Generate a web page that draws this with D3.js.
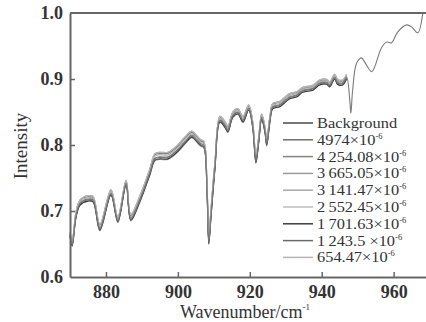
<!DOCTYPE html>
<html>
<head>
<meta charset="utf-8">
<script src="https://cdn.jsdelivr.net/npm/d3@7"></script>
<style>
body { margin: 0; background: #fff; }
text { font-family: "Liberation Serif", "DejaVu Serif", serif; fill: #333; }
.line { fill: none; stroke-width: 1.1; }
</style>
</head>
<body>
<svg id="chart" width="426" height="322"></svg>
<script>
// wavenumbers (cm^-1), shared by all series
const wn = [870.0,870.6,871.7,872.8,875.0,876.4,878.3,881.4,883.3,885.6,886.9,889.4,892.2,893.6,895.0,897.2,899.7,901.9,903.9,905.3,906.4,907.2,908.1,908.6,909.2,910.3,911.7,913.1,913.9,915.3,916.7,918.1,919.7,920.8,921.7,922.5,923.3,924.2,924.7,925.6,926.4,928.3,931.1,933.1,934.7,937.5,939.4,941.4,942.2,943.6,944.4,945.8,946.9,
  947.8,948.1,948.6,949.7,951.1,951.9,953.9,954.7,956.7,958.1,959.4,961.1,963.6,965.0,966.7,968.1]

const background = [0.664,0.650,0.694,0.712,0.718,0.717,0.674,0.727,0.686,0.742,0.689,0.717,0.758,0.780,0.782,0.782,0.792,0.805,0.815,0.808,0.802,0.800,0.732,0.653,0.694,0.767,0.838,0.830,0.823,0.845,0.850,0.838,0.856,0.830,0.777,0.808,0.842,0.823,0.803,0.838,0.858,0.861,0.873,0.876,0.883,0.886,0.894,0.895,0.891,0.903,0.895,0.894,0.903,
  0.868,0.848,0.883,0.924,0.932,0.926,0.911,0.918,0.948,0.956,0.955,0.971,0.982,0.979,0.970,1.000]

const s4974 = [0.667,0.655,0.698,0.716,0.722,0.720,0.679,0.731,0.690,0.745,0.693,0.721,0.762,0.785,0.787,0.787,0.797,0.810,0.819,0.812,0.806,0.804,0.738,0.660,0.700,0.772,0.842,0.834,0.827,0.849,0.854,0.842,0.859,0.834,0.782,0.812,0.846,0.827,0.808,0.842,0.862,0.865,0.877,0.880,0.886,0.889,0.897,0.898,0.894,0.906,0.898,0.897,0.906]
const s4254 = [0.668,0.656,0.699,0.717,0.723,0.722,0.679,0.732,0.691,0.746,0.694,0.722,0.763,0.786,0.788,0.788,0.798,0.811,0.820,0.813,0.807,0.805,0.739,0.662,0.701,0.773,0.843,0.835,0.828,0.850,0.855,0.843,0.860,0.835,0.783,0.813,0.847,0.828,0.808,0.843,0.863,0.866,0.878,0.880,0.887,0.890,0.898,0.899,0.895,0.907,0.899,0.898,0.907]
const s3665 = [0.662,0.647,0.691,0.709,0.715,0.714,0.670,0.724,0.683,0.739,0.685,0.713,0.754,0.776,0.778,0.778,0.788,0.801,0.811,0.804,0.798,0.796,0.727,0.650,0.690,0.763,0.834,0.826,0.819,0.842,0.847,0.834,0.853,0.826,0.772,0.804,0.838,0.819,0.798,0.834,0.855,0.858,0.870,0.873,0.880,0.883,0.891,0.892,0.888,0.900,0.892,0.891,0.900]
const s3141 = [0.665,0.652,0.696,0.714,0.720,0.719,0.676,0.729,0.688,0.744,0.691,0.719,0.760,0.783,0.785,0.785,0.795,0.808,0.817,0.810,0.804,0.802,0.735,0.657,0.697,0.770,0.840,0.832,0.825,0.847,0.852,0.840,0.858,0.832,0.780,0.810,0.844,0.825,0.806,0.840,0.860,0.863,0.875,0.878,0.885,0.888,0.896,0.897,0.893,0.905,0.897,0.896,0.905]
const s2552 = [0.669,0.657,0.699,0.717,0.723,0.722,0.680,0.733,0.692,0.747,0.695,0.722,0.764,0.787,0.789,0.789,0.799,0.812,0.821,0.814,0.808,0.806,0.741,0.665,0.703,0.773,0.843,0.835,0.829,0.850,0.855,0.843,0.861,0.836,0.785,0.813,0.847,0.828,0.809,0.843,0.863,0.866,0.878,0.881,0.888,0.891,0.899,0.900,0.896,0.907,0.900,0.899,0.907]
const s1701 = [0.662,0.647,0.691,0.709,0.715,0.714,0.671,0.724,0.683,0.739,0.686,0.714,0.755,0.777,0.779,0.779,0.789,0.802,0.812,0.805,0.799,0.797,0.728,0.650,0.690,0.763,0.835,0.827,0.820,0.842,0.847,0.835,0.853,0.827,0.773,0.805,0.839,0.820,0.800,0.835,0.855,0.858,0.870,0.873,0.880,0.883,0.891,0.892,0.888,0.900,0.892,0.891,0.900]
const s1243 = [0.663,0.651,0.693,0.711,0.717,0.716,0.673,0.726,0.685,0.741,0.688,0.716,0.757,0.779,0.781,0.781,0.791,0.804,0.813,0.806,0.800,0.798,0.730,0.655,0.693,0.766,0.837,0.829,0.822,0.844,0.849,0.837,0.855,0.829,0.775,0.807,0.841,0.822,0.801,0.837,0.857,0.860,0.872,0.875,0.882,0.885,0.893,0.894,0.890,0.902,0.894,0.893,0.902]
const s654 = [0.666,0.654,0.699,0.717,0.723,0.722,0.680,0.732,0.691,0.747,0.695,0.723,0.764,0.787,0.789,0.789,0.799,0.812,0.821,0.814,0.808,0.806,0.741,0.664,0.703,0.774,0.844,0.836,0.829,0.850,0.855,0.844,0.861,0.836,0.785,0.814,0.847,0.829,0.810,0.843,0.863,0.866,0.878,0.881,0.887,0.890,0.898,0.899,0.895,0.907,0.899,0.898,0.907]

// legend: label, superscript
const labels = [
  ["Background", ""],
  ["4974×10", "-6"],
  ["4\u2009254.08×10", "-6"],
  ["3\u2009665.05×10", "-6"],
  ["3\u2009141.47×10", "-6"],
  ["2\u2009552.45×10", "-6"],
  ["1\u2009701.63×10", "-6"],
  ["1\u2009243.5 ×10", "-6"],
  ["654.47×10", "-6"]
]
const series = [background, s4974, s4254, s3665, s3141, s2552, s1701, s1243, s654]
const colors = ["#4a4a4a", "#6e6e6e", "#858585", "#9a9a9a", "#aaaaaa", "#bdbdbd", "#3c3c3c", "#6a6a6a", "#b5b5b5"]

const xTicks = [880, 900, 920, 940, 960]
const yTicks = [0.6, 0.7, 0.8, 0.9, 1.0]

const margin = {top: 13, right: 0, bottom: 45, left: 70},
    width = 426,
    height = 322

const svg = d3.select("#chart")

const fx = d3.scaleLinear()
    .domain([870, 969])
    .range([margin.left, width - margin.right])
const fy = d3.scaleLinear()
    .domain([0.6, 1.0])
    .range([height - margin.bottom, margin.top])

const line = d3.line()
    .x(d => fx(d[0]))
    .y(d => fy(d[1]))
    .curve(d3.curveCatmullRom.alpha(0.5))

// sample spectra first, background on top
series.slice(1).forEach((s, i) => {
    svg.append("path")
        .datum(s.map((v, j) => [wn[j], v]))
        .attr("class", "line")
        .attr("stroke", colors[i + 1])
        .attr("d", line)
})
svg.append("path")
    .datum(background.map((v, j) => [wn[j], v]))
    .attr("class", "line")
    .attr("stroke", "#7a7a7a")
    .attr("d", line)

// axes
const xAxis = svg.append("g")
    .attr("transform", "translate(0," + fy(0.6) + ")")
    .call(d3.axisBottom(fx).tickValues(xTicks).tickSizeInner(-5).tickSizeOuter(0).tickPadding(8))
const yAxis = svg.append("g")
    .attr("transform", "translate(" + margin.left + ",0)")
    .call(d3.axisLeft(fy).tickValues(yTicks).tickFormat(d3.format(".1f")).tickSizeInner(-5).tickSizeOuter(0).tickPadding(7))

;[xAxis, yAxis].forEach(g => {
    g.select(".domain").attr("stroke", "#666").attr("stroke-width", 2)
    g.selectAll(".tick line").attr("stroke", "#666").attr("stroke-width", 1.5)
    g.selectAll(".tick text")
        .attr("font-family", "Liberation Serif")
        .attr("font-size", 18)
        .attr("font-weight", "bold")
        .attr("fill", "#555")
})
yAxis.selectAll(".tick").filter(d => d === 0.6 || d === 1.0).select("line").remove()

// top frame line
svg.append("line")
    .attr("x1", margin.left).attr("x2", width)
    .attr("y1", fy(1.0)).attr("y2", fy(1.0))
    .attr("stroke", "#666").attr("stroke-width", 2)

// axis titles
const xt = svg.append("text")
    .attr("x", 245)
    .attr("y", 318)
    .attr("text-anchor", "middle")
    .attr("font-size", 18)
    .text("Wavenumber/cm")
xt.append("tspan").attr("dy", -8).attr("font-size", 9).text("-1")

svg.append("text")
    .attr("transform", "translate(27,146) rotate(-90)")
    .attr("text-anchor", "middle")
    .attr("font-size", 19)
    .text("Intensity")

// legend
const lg = svg.append("g").attr("transform", "translate(283,123)")
labels.forEach((l, i) => {
    const row = lg.append("g").attr("transform", "translate(0," + (i * 16.8) + ")")
    row.append("line")
        .attr("x1", 0).attr("x2", 30)
        .attr("stroke", colors[i]).attr("stroke-width", 1.5)
    const t = row.append("text")
        .attr("transform", "translate(34,5) scale(1.13,1)")
        .attr("font-size", 14.5)
        .text(l[0])
    if (l[1]) t.append("tspan").attr("dy", -6).attr("font-size", 7.5).text(l[1])
})
</script>
</body>
</html>
